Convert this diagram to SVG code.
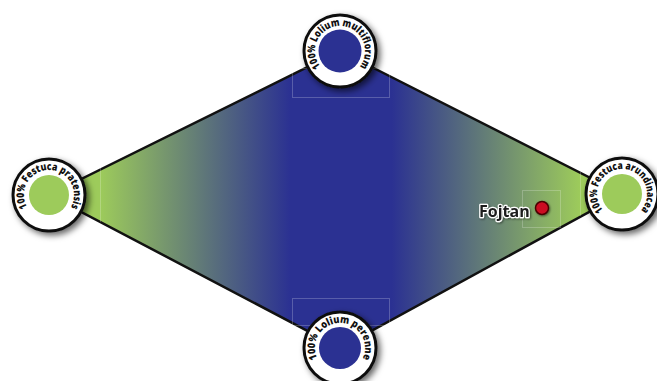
<svg xmlns="http://www.w3.org/2000/svg" xmlns:xlink="http://www.w3.org/1999/xlink" width="657" height="381" viewBox="0 0 657 381">
<style>
.ring{fill:#fff;stroke:#111;stroke-width:3}
.lbl{font-family:"Open Sans","Liberation Sans",sans-serif;font-weight:800;font-size:10.5px;fill:#111}
.green{fill:#9dcb5b}
.blue{fill:#2b3192}
.art{fill:none;stroke:#fff;stroke-opacity:0.22;stroke-width:1}
.fojtan{font-family:"Open Sans","Liberation Sans",sans-serif;font-weight:bold;font-size:16px;fill:#1e1e1e;stroke:#fff;stroke-width:2.5;paint-order:stroke;stroke-linejoin:round}
</style>
<defs>
<linearGradient id="fill" gradientUnits="userSpaceOnUse" x1="49" y1="0" x2="623" y2="0">
<stop offset="0" stop-color="#9dcb5b"/>
<stop offset="0.089" stop-color="#9dcb5b"/>
<stop offset="0.42" stop-color="#2b3192"/>
<stop offset="0.597" stop-color="#2b3192"/>
<stop offset="0.925" stop-color="#9dcb5b"/>
<stop offset="1" stop-color="#9dcb5b"/>
</linearGradient>
<filter id="sh" x="-40%" y="-40%" width="190%" height="190%">
<feDropShadow dx="3" dy="3" stdDeviation="3" flood-color="#000" flood-opacity="0.6"/>
</filter>
<filter id="sh2" x="-40%" y="-40%" width="190%" height="190%">
<feDropShadow dx="1" dy="1" stdDeviation="1" flood-color="#000" flood-opacity="0.5"/>
</filter>
<path id="pTop" d="M340,76 A25,25 0 1 1 340,26 A25,25 0 1 1 340,76"/>
<path id="pLeft" d="M49,220 A25,25 0 1 1 49,170 A25,25 0 1 1 49,220"/>
<path id="pRight" d="M622,219 A25,25 0 1 1 622,169 A25,25 0 1 1 622,219"/>
<path id="pBottom" d="M340,373 A25,25 0 1 1 340,323 A25,25 0 1 1 340,373"/>
</defs>
<rect width="657" height="381" fill="#fff"/>
<g id="connectors">
<polygon points="340,51 622,194 340,348 49,195" fill="url(#fill)" stroke="#111" stroke-width="2.5" stroke-linejoin="miter"/>
<line class="art" x1="100.5" y1="168" x2="100.5" y2="222"/>
<line class="art" x1="580.5" y1="172" x2="580.5" y2="216"/>
<rect class="art" x="292.5" y="68.5" width="97" height="29"/>
<rect class="art" x="292.5" y="298.5" width="97" height="27"/>
<rect class="art" x="522.5" y="190.5" width="38" height="37"/>
</g>
<g id="node-top">
<circle class="ring" cx="340" cy="51" r="36" filter="url(#sh)"/>
<circle class="blue" cx="340" cy="51" r="21.5"/>
<text class="lbl"><textPath xlink:href="#pTop" href="#pTop" startOffset="50%" text-anchor="middle" textLength="112" lengthAdjust="spacingAndGlyphs">100% Lolium multiflorum</textPath></text>
</g>
<g id="node-left">
<circle class="ring" cx="49" cy="195" r="36" filter="url(#sh)"/>
<circle class="green" cx="49" cy="195" r="20"/>
<text class="lbl"><textPath xlink:href="#pLeft" href="#pLeft" startOffset="50%" text-anchor="middle" textLength="104" lengthAdjust="spacingAndGlyphs">100% Festuca pratensis</textPath></text>
</g>
<g id="node-right">
<circle class="ring" cx="622" cy="194" r="36" filter="url(#sh)"/>
<circle class="green" cx="622" cy="194" r="20"/>
<text class="lbl"><textPath xlink:href="#pRight" href="#pRight" startOffset="50%" text-anchor="middle" textLength="114" lengthAdjust="spacingAndGlyphs">100% Festuca arundinacea</textPath></text>
</g>
<g id="node-bottom">
<circle class="ring" cx="340" cy="348" r="36" filter="url(#sh)"/>
<circle class="blue" cx="340" cy="348" r="21"/>
<text class="lbl"><textPath xlink:href="#pBottom" href="#pBottom" startOffset="50%" text-anchor="middle" textLength="100" lengthAdjust="spacingAndGlyphs">100% Lolium perenne</textPath></text>
</g>
<g id="node-fojtan">
<text class="fojtan" x="479" y="217" filter="url(#sh2)">Fojtan</text>
<circle cx="542" cy="208" r="6.5" fill="#cc1020" stroke="#4a0000" stroke-width="1.5" filter="url(#sh2)"/>
</g>
</svg>
